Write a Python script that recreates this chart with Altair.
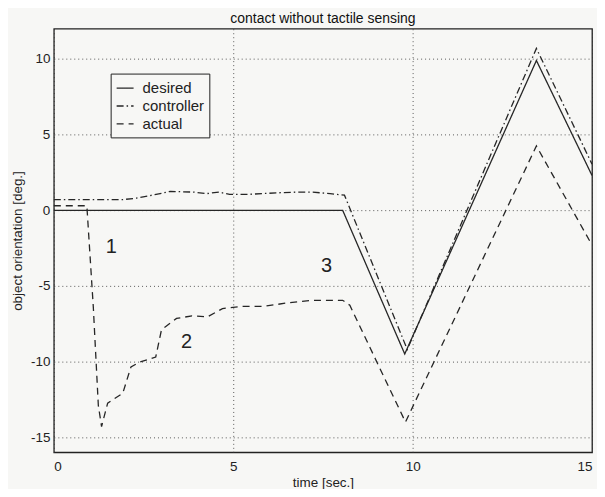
import altair as alt
import pandas as pd

# desired trajectory (solid)
t_desired = [0, 8.05, 9.78, 13.45, 15]
y_desired = [0, 0, -9.5, 9.9, 2.3]

# controller (dash-dot)
t_controller = [0, 1.9, 2.3, 2.85, 3.25, 3.9, 4.25, 4.6, 4.9, 5.4, 6.2, 6.8, 7.2, 7.7, 8.1, 9.85, 13.45, 15]
y_controller = [0.7, 0.7, 0.8, 1.05, 1.25, 1.2, 1.1, 1.2, 1.05, 1.05, 1.15, 1.2, 1.2, 1.1, 1.0, -9.2, 10.7, 3.05]

# actual (dashed)
t_actual = [0, 0.92, 1.1, 1.24, 1.33, 1.5, 1.92, 2.15, 2.38, 2.84, 3.0, 3.42, 3.85, 4.28, 4.7, 5.24,
            5.86, 6.49, 7.2, 8.05, 8.25, 9.8, 13.45, 15]
y_actual = [0.3, 0.3, -6.4, -12.9, -14.3, -12.75, -12.1, -10.35, -10.05, -9.7, -7.9, -7.15, -6.98, -7.05,
            -6.5, -6.35, -6.35, -6.13, -5.95, -5.95, -6.28, -14.0, 4.25, -2.3]

series_names = ["desired", "controller", "actual"]

# phase annotations
ann_text = ["1", "2", "3"]
ann_t = [1.6, 3.7, 7.6]
ann_y = [-2.4, -8.7, -3.7]

x_ticks = [0, 5, 10, 15]
y_ticks = [-15, -10, -5, 0, 5, 10]

rows = []
for name, ts, ys in [("desired", t_desired, y_desired),
                     ("controller", t_controller, y_controller),
                     ("actual", t_actual, y_actual)]:
    for i, (t, y) in enumerate(zip(ts, ys)):
        rows.append({"series": name, "t": t, "y": y, "order": i})
df = pd.DataFrame(rows)
ann = pd.DataFrame({"label": ann_text, "t": ann_t, "y": ann_y})

FONT = "Liberation Sans"
INK = "#262626"

x_scale = alt.Scale(domain=[0, 15], nice=False, zero=False)
y_scale = alt.Scale(domain=[-16, 12], nice=False, zero=False)

lines = alt.Chart(df).mark_line(color=INK, strokeWidth=1.3).encode(
    x=alt.X("t:Q", scale=x_scale,
            axis=alt.Axis(title="time [sec.]", values=x_ticks, grid=True, gridDash=[1, 3],
                          gridColor="#333", gridOpacity=0.8, ticks=False, labelPadding=7,
                          labelExpr="'' + datum.value", titlePadding=3, domain=False)),
    y=alt.Y("y:Q", scale=y_scale,
            axis=alt.Axis(title="object orientation [deg.]", values=y_ticks, grid=True, gridDash=[1, 3],
                          gridColor="#333", gridOpacity=0.8, ticks=False, labelPadding=4,
                          labelExpr="'' + datum.value", titlePadding=6, domain=False)),
    strokeDash=alt.StrokeDash(
        "series:N",
        scale=alt.Scale(domain=series_names, range=[[1, 0], [7, 3, 1.5, 3], [7, 5]]),
        legend=alt.Legend(title=None, orient="none", legendX=57, legendY=45,
                          symbolType="stroke", symbolSize=289, symbolStrokeWidth=1.3,
                          symbolStrokeColor=INK, labelFontSize=15, labelFont=FONT,
                          labelColor="#222", strokeColor="#222", padding=5,
                          rowPadding=0, labelOffset=8, fillColor="#f7f7f5")),
    detail="series:N",
    order="order:Q",
)

labels = alt.Chart(ann).mark_text(fontSize=20, font=FONT, color="#222").encode(
    x=alt.X("t:Q", scale=x_scale), y=alt.Y("y:Q", scale=y_scale), text="label:N")

chart = alt.layer(lines, labels).properties(
    width=540, height=425,
    title=alt.TitleParams("contact without tactile sensing", fontSize=14, fontWeight="normal",
                          font=FONT, color="#111", offset=3),
    autosize=alt.AutoSizeParams(type="none"),
    padding={"left": 46, "top": 20, "right": 5, "bottom": 36},
    background="#f7f7f5",
).configure_view(stroke="#222", strokeWidth=1.3).configure_axis(
    labelFont=FONT, labelFontSize=13.5, labelColor="#222", titleFont=FONT, titleFontSize=13.5,
    titleFontWeight="normal", titleColor="#222")

chart.save("out.html", embed_options={"renderer": "svg", "actions": False})
